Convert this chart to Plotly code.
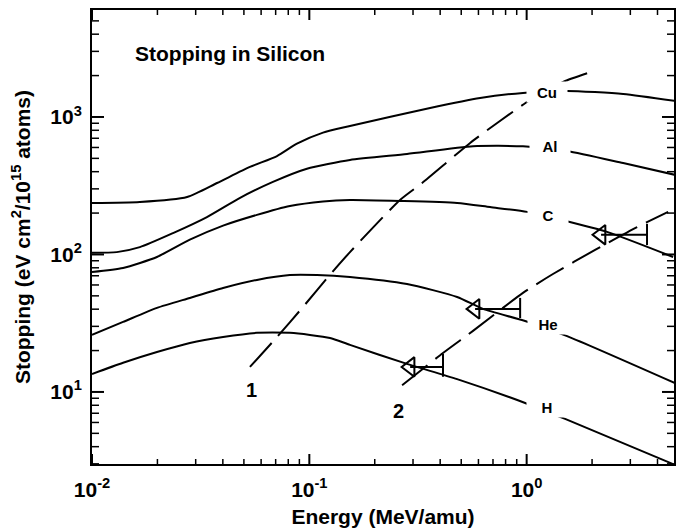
import numpy as np
import plotly.graph_objects as go

# ---- data ----
cu_E = [0.01, 0.0166, 0.0274, 0.0376, 0.0533, 0.071, 0.0877, 0.1156, 0.1538, 0.3595, 0.6105, 0.9616, 1.535, 2.78, 4.82]
cu_S = [237, 241, 262, 331, 433, 520, 640, 770, 860, 1163, 1374, 1496, 1546, 1469, 1307]

al_E = [0.01, 0.0130, 0.0166, 0.0236, 0.0338, 0.048, 0.068, 0.0975, 0.1538, 0.2815, 0.5666, 0.9616, 1.535, 2.78, 4.82]
al_S = [103, 104, 113, 143, 187, 258, 337, 420, 487, 538, 612, 612, 566, 462, 379]

c_E = [0.01, 0.0139, 0.0199, 0.0282, 0.0401, 0.0574, 0.0814, 0.1156, 0.1538, 0.2614, 0.4786, 0.6785, 1.005, 1.455, 2.344, 4.72]
c_S = [74.6, 79.8, 95.9, 128, 162, 194, 225, 243, 249, 245, 237, 221, 204, 178, 146, 95.9]

he_E = [0.01, 0.0139, 0.0199, 0.0282, 0.0401, 0.0574, 0.0814, 0.1084, 0.1538, 0.2815, 0.4786, 0.6299, 0.984, 1.535, 4.82]
he_S = [26.0, 32.3, 40.9, 48.3, 57.0, 65.3, 70.9, 70.9, 68.6, 61.0, 49.1, 40.2, 32.8, 25.5, 11.6]

h_E = [0.01, 0.0139, 0.0199, 0.0282, 0.0401, 0.0574, 0.0814, 0.1007, 0.1245, 0.1538, 0.2815, 0.4786, 0.984, 1.503, 4.72]
h_S = [13.5, 16.3, 19.5, 22.7, 25.1, 26.9, 26.9, 26.0, 24.7, 22.0, 16.0, 12.4, 8.32, 6.37, 2.99]

line1_E = [0.0533, 0.071, 0.0935, 0.1219, 0.1538, 0.2614, 0.3304, 0.5495, 0.7316, 1.037, 1.472, 1.918]
line1_S = [15.2, 25.1, 41.5, 68.6, 104, 249, 331, 647, 904, 1329, 1798, 2089]

line2_E = [0.2673, 0.4121, 0.5666, 0.9616, 1.3215, 2.065, 3.221, 4.477]
line2_S = [11.2, 19.2, 27.8, 52.5, 72.1, 108, 158, 204]

# arrows: head centre, bar position, bar extent
arrow_head_E = [2.20, 0.579, 0.291]
arrow_S = [139, 40.2, 15.2]
arrow_bar_E = [3.58, 0.9333, 0.4121]
arrow_bar_lo = [117, 34.5, 12.9]
arrow_bar_hi = [167, 48.3, 18.9]

curve_labels = ["Cu", "Al", "C", "He", "H"]
label_E = [1.24, 1.28, 1.25, 1.25, 1.24]
label_S = [1520, 615, 194, 31.3, 7.78]

line_labels = ["1", "2"]
line_label_E = [0.0544, 0.256]
line_label_S = [10.3, 7.28]

x_tickvals = [0.01, 0.1, 1]
x_ticktext = ["10<sup>-2</sup>", "10<sup>-1</sup>", "10<sup>0</sup>"]
x_minor_tickvals = [0.02, 0.03, 0.04, 0.05, 0.06, 0.07, 0.08, 0.09,
                    0.2, 0.3, 0.4, 0.5, 0.6, 0.7, 0.8, 0.9,
                    2, 3, 4]
y_tickvals = [10, 100, 1000]
y_ticktext = ["10<sup>1</sup>", "10<sup>2</sup>", "10<sup>3</sup>"]
y_minor_tickvals = [3, 4, 5, 6, 7, 8, 9,
                    20, 30, 40, 50, 60, 70, 80, 90,
                    200, 300, 400, 500, 600, 700, 800, 900,
                    2000, 3000, 4000, 5000]

X_RANGE = [-2, 0.678]
Y_RANGE = [0.476, 3.778]

W, H = 677, 528
M_L, M_R, M_T, M_B = 92, 3, 10, 64
FONT = "Liberation Sans, Arial, Helvetica, sans-serif"
MAJOR_LEN, MINOR_LEN = 10, 6          # tick lengths in pixels

# pixels per decade of each axis, used to turn tick lengths into axis units
px_per_dec_x = (W - M_L - M_R) / (X_RANGE[1] - X_RANGE[0])
px_per_dec_y = (H - M_T - M_B) / (Y_RANGE[1] - Y_RANGE[0])


def x_tick_segments(vals, length):
    """vertical tick marks at the bottom and top edges"""
    dy = length / px_per_dec_y
    xs, ys = [], []
    for v in vals:
        xs += [v, v, None, v, v, None]
        ys += [10 ** Y_RANGE[0], 10 ** (Y_RANGE[0] + dy), None,
               10 ** Y_RANGE[1], 10 ** (Y_RANGE[1] - dy), None]
    return xs, ys


def y_tick_segments(vals, length):
    """horizontal tick marks at the left and right edges"""
    dx = length / px_per_dec_x
    xs, ys = [], []
    for v in vals:
        xs += [10 ** X_RANGE[0], 10 ** (X_RANGE[0] + dx), None,
               10 ** X_RANGE[1], 10 ** (X_RANGE[1] - dx), None]
        ys += [v, v, None, v, v, None]
    return xs, ys


fig = go.Figure()

for E, S in [(cu_E, cu_S), (al_E, al_S), (c_E, c_S), (he_E, he_S), (h_E, h_S)]:
    fig.add_trace(go.Scatter(x=E, y=S, mode="lines",
                             line=dict(color="black", width=2, shape="spline", smoothing=0.6),
                             hoverinfo="skip", showlegend=False))

for E, S in [(line1_E, line1_S), (line2_E, line2_S)]:
    fig.add_trace(go.Scatter(x=E, y=S, mode="lines",
                             line=dict(color="black", width=2, dash="32px,10px", shape="spline", smoothing=0.6),
                             hoverinfo="skip", showlegend=False))

for i in range(len(arrow_head_E)):
    fig.add_trace(go.Scatter(x=[arrow_head_E[i], arrow_bar_E[i]], y=[arrow_S[i], arrow_S[i]],
                             mode="lines", line=dict(color="black", width=2),
                             hoverinfo="skip", showlegend=False))
    fig.add_trace(go.Scatter(x=[arrow_bar_E[i], arrow_bar_E[i]], y=[arrow_bar_lo[i], arrow_bar_hi[i]],
                             mode="lines", line=dict(color="black", width=2),
                             hoverinfo="skip", showlegend=False))
    fig.add_trace(go.Scatter(x=[arrow_head_E[i]], y=[arrow_S[i]], mode="markers",
                             marker=dict(symbol="triangle-left-open", size=17, color="black",
                                         line=dict(width=2, color="black")),
                             hoverinfo="skip", showlegend=False))

# tick marks, inside on all four sides
for seg_fn, vals, ln, w in [(x_tick_segments, x_tickvals, MAJOR_LEN, 2),
                            (x_tick_segments, x_minor_tickvals, MINOR_LEN - 1, 1.5),
                            (y_tick_segments, y_tickvals, MAJOR_LEN + 2, 2),
                            (y_tick_segments, y_minor_tickvals, MINOR_LEN + 1, 1.5)]:
    tx, ty = seg_fn(vals, ln)
    fig.add_trace(go.Scatter(x=tx, y=ty, mode="lines", connectgaps=False,
                             line=dict(color="black", width=w),
                             hoverinfo="skip", showlegend=False))

annotations = []
for t, E, S in zip(curve_labels, label_E, label_S):
    annotations.append(dict(x=np.log10(E), y=np.log10(S), xref="x", yref="y", text=t,
                            showarrow=False, bgcolor="white", width=38, height=18,
                            font=dict(family=FONT, size=15, color="black", weight="bold")))
for t, E, S in zip(line_labels, line_label_E, line_label_S):
    annotations.append(dict(x=np.log10(E), y=np.log10(S), xref="x", yref="y", text=t,
                            showarrow=False,
                            font=dict(family=FONT, size=20, color="black", weight="bold")))
annotations.append(dict(x=0.07, y=0.905, xref="paper", yref="paper", xanchor="left", yanchor="middle",
                        text="Stopping in Silicon", showarrow=False,
                        font=dict(family=FONT, size=21, color="black", weight="bold")))

axis_common = dict(
    type="log", showline=True, linewidth=2, linecolor="black", mirror=True,
    ticks="", showgrid=False, zeroline=False,
    tickfont=dict(family=FONT, size=21, color="black", weight="bold"),
)

fig.update_layout(
    template="none",
    width=W, height=H,
    margin=dict(l=M_L, r=M_R, t=M_T, b=M_B),
    paper_bgcolor="white", plot_bgcolor="white",
    font=dict(family=FONT, color="black"),
    xaxis=dict(axis_common, range=X_RANGE, tickmode="array", tickvals=x_tickvals, ticktext=x_ticktext,
               ticklabelstandoff=6,
               title=dict(text="Energy (MeV/amu)", standoff=10,
                          font=dict(family=FONT, size=21, color="black", weight="bold"))),
    yaxis=dict(axis_common, range=Y_RANGE, tickmode="array", tickvals=y_tickvals, ticktext=y_ticktext,
               ticklabelstandoff=4,
               title=dict(text="Stopping (eV cm<sup>2</sup>/10<sup>15</sup> atoms)", standoff=14,
                          font=dict(family=FONT, size=21, color="black", weight="bold"))),
    annotations=annotations,
    showlegend=False,
)

fig.write_html("out.html")
